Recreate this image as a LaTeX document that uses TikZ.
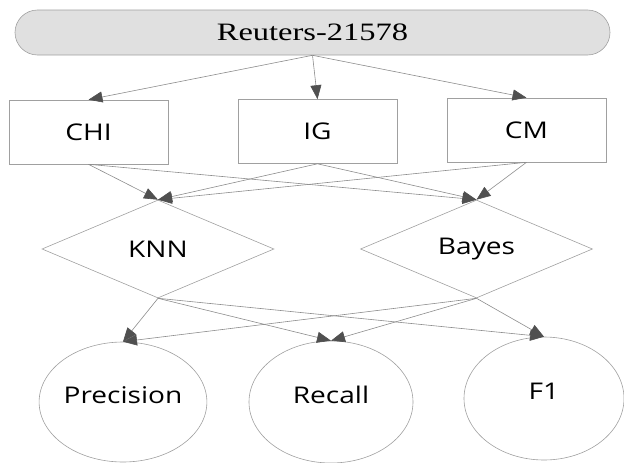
\documentclass[tikz,border=0pt]{standalone}
\usepackage{fontspec}
\usetikzlibrary{arrows.meta,shapes.geometric,shapes.misc}
\newfontfamily\labelsans[FakeStretch=1.22]{Open Sans}
\newfontfamily\labelserif[FakeStretch=1.3]{Liberation Serif}
\definecolor{linegray}{HTML}{8C8C8C}
\definecolor{tipgray}{HTML}{505050}
\definecolor{pillgray}{HTML}{E0E0E0}
\definecolor{bordergray}{HTML}{A0A0A0}
\tikzset{
  shapebox/.style={draw=bordergray, line width=0.6pt, inner sep=0pt,
    font=\labelsans\fontsize{23}{26}\selectfont, text=black},
  pill/.style={shapebox, rounded rectangle, fill=pillgray,
    minimum width=595pt, minimum height=45pt,
    font=\labelserif\fontsize{25}{28}\selectfont},
  featbox/.style={shapebox, rectangle, minimum width=159pt, minimum height=64pt},
  clsbox/.style={shapebox, diamond, aspect=2.37, minimum width=232pt, minimum height=98pt},
  metric/.style={shapebox, ellipse, text depth=14pt},
  edge/.style={draw=linegray, line width=0.6pt,
    -{Triangle[length=14pt,width=11pt,color=tipgray]}}
}
\begin{document}
\begin{tikzpicture}[x=1pt,y=-1pt]
        % Frame
        \useasboundingbox (0,0) rectangle (624,463);
        % Data set
        \node[pill] (data) at (312.5,32.5) {Reuters-21578};
        % Feature selection
        \node[featbox] (chi) at (88.5,132) {CHI};
        \node[featbox] (ig) at (317.5,131.5) {IG};
        \node[featbox] (cm) at (526.5,130) {CM};
        % Classifiers
        \node[clsbox] (knn) at (158,249) {KNN};
        \node[clsbox] (bayes) at (476.5,249) {Bayes};
        % Measures
        \node[metric, minimum width=164pt, minimum height=120pt] (prec) at (123,402) {Precision};
        \node[metric, minimum width=164pt, minimum height=122pt] (rec) at (331,402) {Recall};
        \node[metric, minimum width=160pt, minimum height=123pt] (fone) at (544,398.5) {F1};
        % Connectors
        \foreach \f in {chi,ig,cm} {
          \draw[edge] (data.south) -- (\f.north);
        }
        \foreach \f in {chi,ig,cm} {
          \foreach \c in {knn,bayes} {
            \draw[edge] (\f.south) -- (\c.north);
          }
        }
        \foreach \c in {knn,bayes} {
          \foreach \m in {prec,rec,fone} {
            \draw[edge] (\c.south) -- (\m.north);
          }
        }
      \end{tikzpicture}
\end{document}
